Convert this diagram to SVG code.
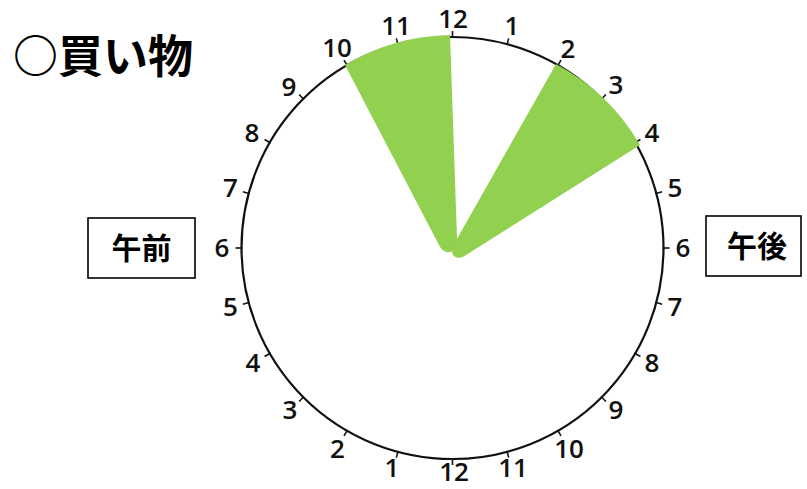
<svg xmlns="http://www.w3.org/2000/svg" width="807" height="489" viewBox="0 0 807 489">
<style>
.num{font-family:"Open Sans","Liberation Sans",sans-serif;font-size:26px;font-weight:600;fill:#111;text-anchor:middle}
.jp{font-family:"Noto Sans CJK JP","Liberation Sans",sans-serif;font-weight:700;fill:#000}
.tick{stroke:#111;stroke-width:1.6}
.wedge{fill:#92D050}
.box{fill:#fff;stroke:#000;stroke-width:1.6}
</style>
<rect width="807" height="489" fill="#fff"/>
<g id="title"><text class="jp" x="13" y="73" font-size="45">○買い物</text></g>
<g id="clock-face">
<circle cx="452.5" cy="248" r="211" fill="none" stroke="#111" stroke-width="2.2"/>
<g id="ticks">
<line class="tick" x1="452.5" y1="38" x2="452.5" y2="31" transform="rotate(0 452.5 248)"/>
<line class="tick" x1="452.5" y1="38" x2="452.5" y2="31" transform="rotate(15 452.5 248)"/>
<line class="tick" x1="452.5" y1="38" x2="452.5" y2="31" transform="rotate(30 452.5 248)"/>
<line class="tick" x1="452.5" y1="38" x2="452.5" y2="31" transform="rotate(45 452.5 248)"/>
<line class="tick" x1="452.5" y1="38" x2="452.5" y2="31" transform="rotate(60 452.5 248)"/>
<line class="tick" x1="452.5" y1="38" x2="452.5" y2="31" transform="rotate(75 452.5 248)"/>
<line class="tick" x1="452.5" y1="38" x2="452.5" y2="31" transform="rotate(90 452.5 248)"/>
<line class="tick" x1="452.5" y1="38" x2="452.5" y2="31" transform="rotate(105 452.5 248)"/>
<line class="tick" x1="452.5" y1="38" x2="452.5" y2="31" transform="rotate(120 452.5 248)"/>
<line class="tick" x1="452.5" y1="38" x2="452.5" y2="31" transform="rotate(135 452.5 248)"/>
<line class="tick" x1="452.5" y1="38" x2="452.5" y2="31" transform="rotate(150 452.5 248)"/>
<line class="tick" x1="452.5" y1="38" x2="452.5" y2="31" transform="rotate(165 452.5 248)"/>
<line class="tick" x1="452.5" y1="38" x2="452.5" y2="31" transform="rotate(180 452.5 248)"/>
<line class="tick" x1="452.5" y1="38" x2="452.5" y2="31" transform="rotate(195 452.5 248)"/>
<line class="tick" x1="452.5" y1="38" x2="452.5" y2="31" transform="rotate(210 452.5 248)"/>
<line class="tick" x1="452.5" y1="38" x2="452.5" y2="31" transform="rotate(225 452.5 248)"/>
<line class="tick" x1="452.5" y1="38" x2="452.5" y2="31" transform="rotate(240 452.5 248)"/>
<line class="tick" x1="452.5" y1="38" x2="452.5" y2="31" transform="rotate(255 452.5 248)"/>
<line class="tick" x1="452.5" y1="38" x2="452.5" y2="31" transform="rotate(270 452.5 248)"/>
<line class="tick" x1="452.5" y1="38" x2="452.5" y2="31" transform="rotate(285 452.5 248)"/>
<line class="tick" x1="452.5" y1="38" x2="452.5" y2="31" transform="rotate(300 452.5 248)"/>
<line class="tick" x1="452.5" y1="38" x2="452.5" y2="31" transform="rotate(315 452.5 248)"/>
<line class="tick" x1="452.5" y1="38" x2="452.5" y2="31" transform="rotate(330 452.5 248)"/>
<line class="tick" x1="452.5" y1="38" x2="452.5" y2="31" transform="rotate(345 452.5 248)"/>
</g>
</g>
<g id="wedges">
<path id="wedge-10-12" class="wedge" d="M 345 65 A 213 213 0 0 1 450 35 L 457 238 Q 457 254 446 252 Q 441 250 439 245 Z"/>
<path id="wedge-2-4" class="wedge" d="M 556 64 A 212 212 0 0 1 640 145 L 466 255 Q 458 261 453 255 Q 451 251 453 246 Z"/>
</g>
<g id="labels">
<text class="num" x="453" y="28">12</text>
<text class="num" x="512" y="35">1</text>
<text class="num" x="568" y="58">2</text>
<text class="num" x="616" y="94">3</text>
<text class="num" x="652" y="142">4</text>
<text class="num" x="675" y="197">5</text>
<text class="num" x="683" y="257">6</text>
<text class="num" x="675" y="316">7</text>
<text class="num" x="652" y="372">8</text>
<text class="num" x="616" y="419">9</text>
<text class="num" x="569" y="458">10</text>
<text class="num" x="513" y="477">11</text>
<text class="num" x="454" y="481">12</text>
<text class="num" x="392" y="477">1</text>
<text class="num" x="337.5" y="458">2</text>
<text class="num" x="290" y="419">3</text>
<text class="num" x="253" y="372">4</text>
<text class="num" x="230.5" y="316">5</text>
<text class="num" x="222" y="257">6</text>
<text class="num" x="230.5" y="197">7</text>
<text class="num" x="252" y="142">8</text>
<text class="num" x="289" y="96">9</text>
<text class="num" x="337" y="57">10</text>
<text class="num" x="396" y="35">11</text>
</g>
<g id="box-am">
<rect class="box" x="88" y="218" width="107" height="60"/>
<text class="jp" x="141.5" y="259" font-size="30" text-anchor="middle">午前</text>
</g>
<g id="box-pm">
<rect class="box" x="706" y="216" width="95" height="60"/>
<text class="jp" x="757" y="257" font-size="30" text-anchor="middle">午後</text>
</g>
</svg>
